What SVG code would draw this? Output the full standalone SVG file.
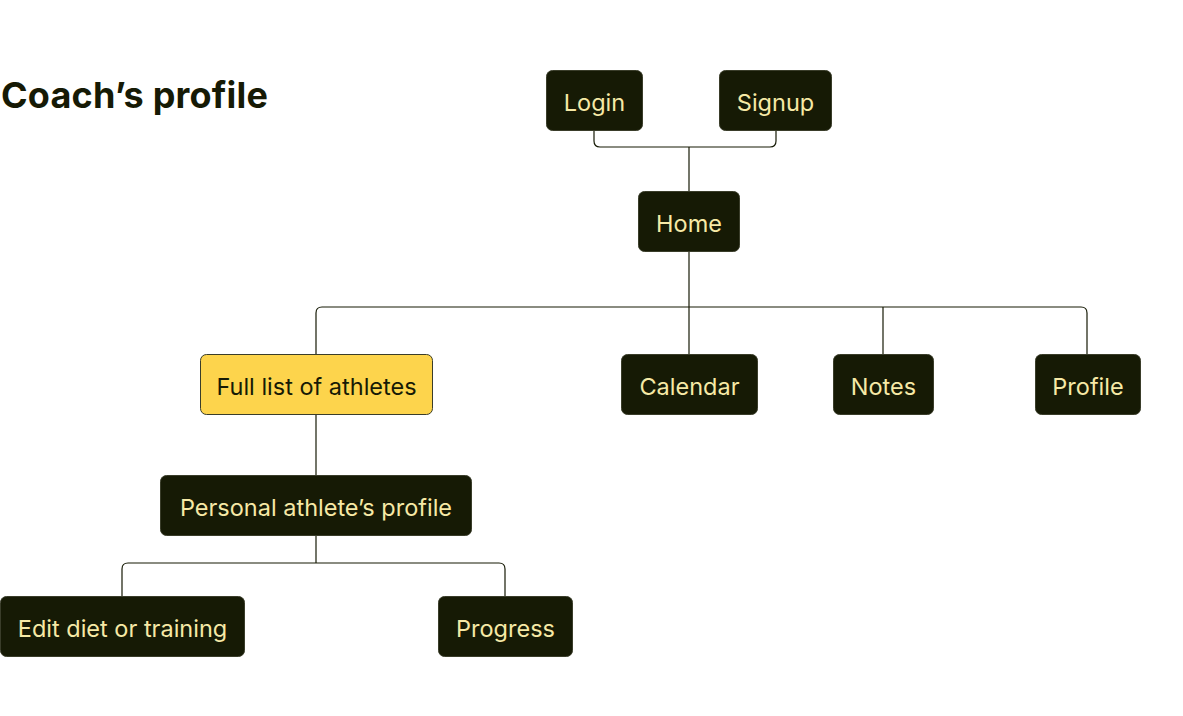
<svg xmlns="http://www.w3.org/2000/svg" width="1183" height="716" viewBox="0 0 1183 716">
<style>
.n rect{fill:#161a05;stroke:#3a3d2a;stroke-width:1}
.n text{fill:#f6e9a6;font-family:Inter,"Noto Sans",sans-serif;font-size:23.5px;text-anchor:middle;dominant-baseline:central}
.y rect{fill:#fdd44c;stroke:#3a3d2a;stroke-width:1}
.y text{fill:#161a05}
.c path{fill:none;stroke:#161a05;stroke-width:1.2}
</style>
<rect width="1183" height="716" fill="#ffffff"/>
<text x="1" y="108" font-family="Inter,'Noto Sans',sans-serif" font-weight="700" font-size="36" fill="#161a05" letter-spacing="0.2">Coach’s profile</text>
<g class="c">
<path d="M594 130 V141 Q594 147 600 147 H770 Q776 147 776 141 V130"/>
<path d="M689 147 V192"/>
<path d="M689 252 V354"/>
<path d="M316 354 V313 Q316 307 322 307 H1081 Q1087 307 1087 313 V354"/>
<path d="M883 307 V354"/>
<path d="M316 414 V475"/>
<path d="M316 535 V563"/>
<path d="M122 596 V569 Q122 563 128 563 H499 Q505 563 505 569 V596"/>
</g>
<g id="login" class="n"><rect x="546.5" y="70.5" width="96" height="60" rx="6"/><text x="594.5" y="102.5">Login</text></g>
<g id="signup" class="n"><rect x="719.5" y="70.5" width="112" height="60" rx="6"/><text x="775.5" y="102.5">Signup</text></g>
<g id="home" class="n"><rect x="638.5" y="191.5" width="101" height="60" rx="6"/><text x="689" y="223.5">Home</text></g>
<g id="athletes" class="n y"><rect x="200.5" y="354.5" width="232" height="60" rx="6"/><text x="316.5" y="386.5">Full list of athletes</text></g>
<g id="calendar" class="n"><rect x="621.5" y="354.5" width="136" height="60" rx="6"/><text x="689.5" y="386.5">Calendar</text></g>
<g id="notes" class="n"><rect x="833.5" y="354.5" width="100" height="60" rx="6"/><text x="883.5" y="386.5">Notes</text></g>
<g id="profile" class="n"><rect x="1035.5" y="354.5" width="105" height="60" rx="6"/><text x="1088" y="386.5">Profile</text></g>
<g id="personal" class="n"><rect x="160.5" y="475.5" width="311" height="60" rx="6"/><text x="316" y="507.5">Personal athlete’s profile</text></g>
<g id="edit" class="n"><rect x="0.5" y="596.5" width="244" height="60" rx="6"/><text x="122.5" y="628.5">Edit diet or training</text></g>
<g id="progress" class="n"><rect x="438.5" y="596.5" width="134" height="60" rx="6"/><text x="505.5" y="628.5">Progress</text></g>
</svg>
